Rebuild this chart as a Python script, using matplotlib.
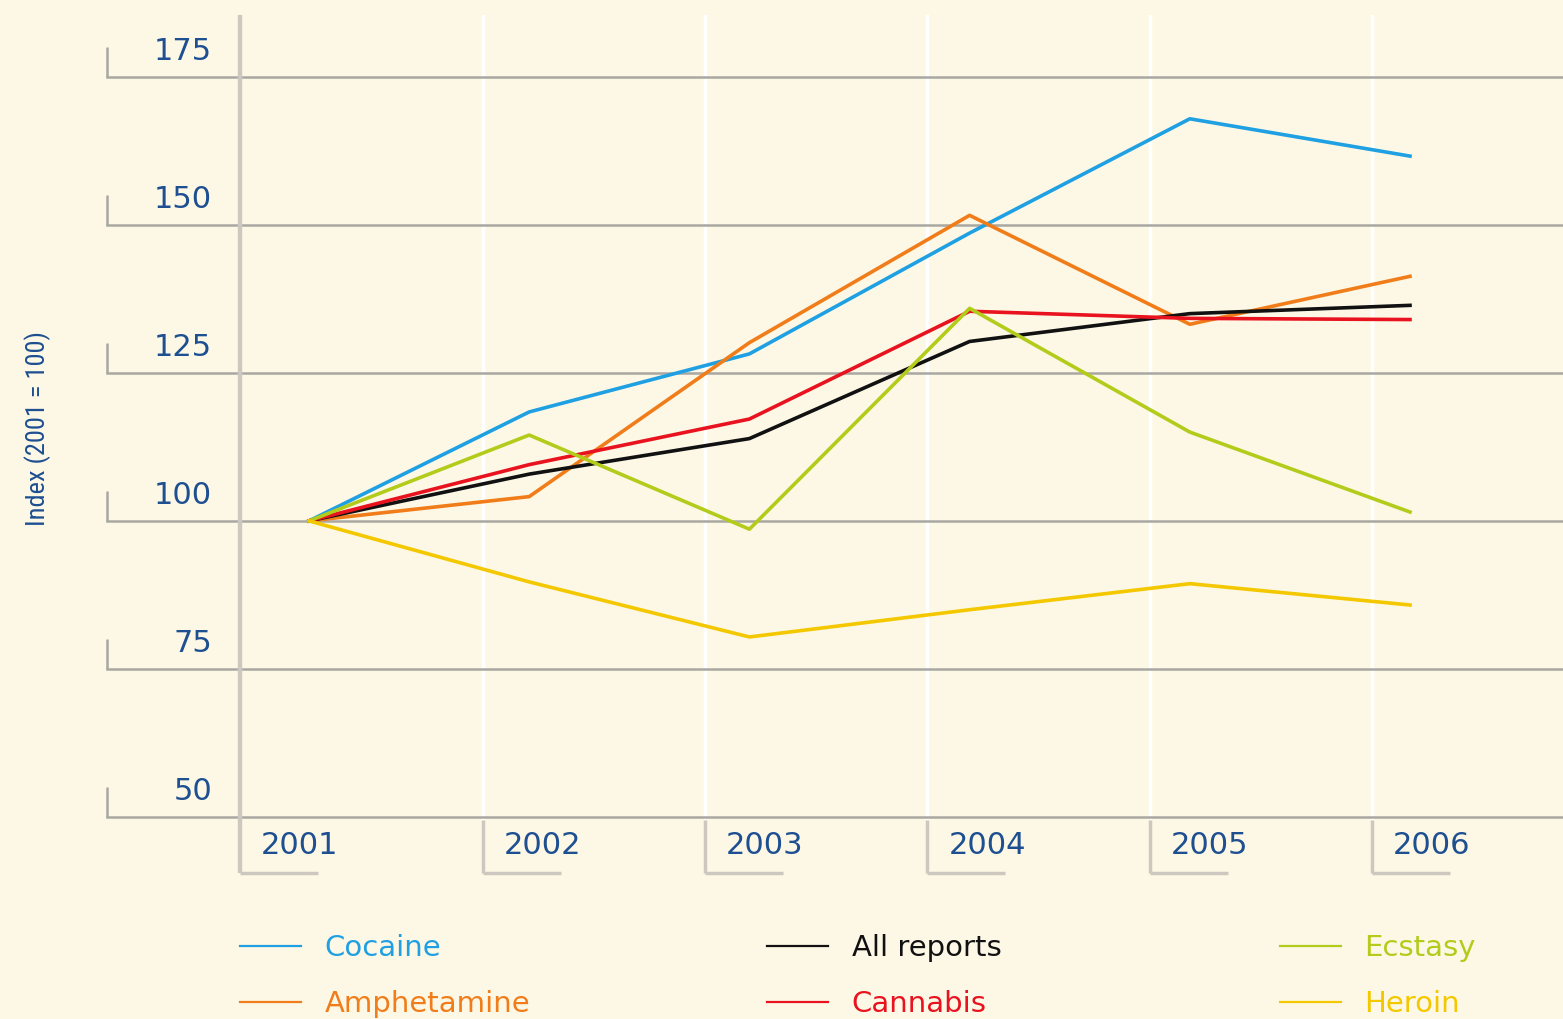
import matplotlib.pyplot as plt
from matplotlib.lines import Line2D
import matplotlib.transforms as mtransforms

years = [2001, 2002, 2003, 2004, 2005, 2006]
cocaine = [100, 118.4, 128.2, 148.6, 167.9, 161.6]
amphetamine = [100, 104.1, 130.1, 151.6, 133.2, 141.3]
all_reports = [100, 107.9, 113.9, 130.3, 135.0, 136.4]
cannabis = [100, 109.5, 117.2, 135.4, 134.2, 134.0]
ecstasy = [100, 114.5, 98.6, 135.9, 115.0, 101.5]
heroin = [100, 89.7, 80.4, 85.0, 89.4, 85.8]
y_ticks = [50, 75, 100, 125, 150, 175]

bg = '#fdf8e6'
blue_txt = '#1d4f91'
grid_col = '#a9a7a2'
box_col = '#ccc8bf'

series = [
    ('Cocaine', cocaine, '#1ea0e2'),
    ('Amphetamine', amphetamine, '#f07d1a'),
    ('All reports', all_reports, '#111111'),
    ('Cannabis', cannabis, '#e8131f'),
    ('Ecstasy', ecstasy, '#b3cc1c'),
    ('Heroin', heroin, '#f4c800'),
]

W, H = 1563, 1019
fig = plt.figure(figsize=(W / 100, H / 100), dpi=100, facecolor=bg)
ax_left, ax_bottom, ax_top = 240, 820, 15
ax = fig.add_axes([ax_left / W, 1 - ax_bottom / H, (W - ax_left) / W, (ax_bottom - ax_top) / H])
ax.set_facecolor(bg)

px_per_year = 220.2
px_per_unit = 5.922
x0 = 2001 - (309 - ax_left) / px_per_year
x1 = 2006 + (W - 1410) / px_per_year
ax.set_xlim(x0, x1)
ax.set_ylim(50 - 3 / px_per_unit, 50 + (817 - ax_top) / px_per_unit)
for s in ax.spines.values():
    s.set_visible(False)
ax.set_xticks([])
ax.set_yticks([])

ax_w = W - ax_left
ax_h = ax_bottom - ax_top
bx = mtransforms.blended_transform_factory(ax.transAxes, ax.transData)
dx = mtransforms.blended_transform_factory(ax.transData, ax.transAxes)

# horizontal grid lines with small brackets and labels
brk_x = (107 - ax_left) / ax_w
for v in y_ticks:
    ax.axhline(v, xmin=brk_x, xmax=1, color=grid_col, lw=1.8, clip_on=False, zorder=1)
    ax.plot([brk_x, brk_x], [v, v + 5], transform=bx, color=grid_col, lw=1.8,
            clip_on=False, solid_capstyle='butt')
    ax.text((212 - ax_left) / ax_w, v + 1.8, str(v), transform=bx, ha='right', va='bottom',
            fontsize=22, color=blue_txt)

# vertical year separators and label boxes (boxes sit a little left of each year)
box_lefts = [x0] + [x0 + (483 + i * 222.2 - ax_left) / px_per_year for i in range(5)]
box_depth = -(873 - ax_bottom) / ax_h
for i, (b, yr) in enumerate(zip(box_lefts, years)):
    if i == 0:
        ax.plot([b, b], [1, box_depth], transform=dx, color=box_col, lw=3.2,
                clip_on=False, zorder=2, solid_capstyle='butt')
    else:
        ax.plot([b, b], [0, 1], transform=dx, color='white', lw=2.5, zorder=0.5)
        ax.plot([b, b], [0, box_depth], transform=dx, color=box_col, lw=2.5,
                clip_on=False, solid_capstyle='butt')
    ax.plot([b, b + 78 / px_per_year], [box_depth, box_depth], transform=dx,
            color=box_col, lw=2.5, clip_on=False, solid_capstyle='butt')
    ax.text(b + 21 / px_per_year, -(846 - ax_bottom) / ax_h, str(yr), transform=dx,
            ha='left', va='center', fontsize=22, color=blue_txt)

# data lines
handles = []
for name, vals, col in series:
    ax.plot(years, vals, color=col, lw=2.6, zorder=3)
    handles.append(Line2D([], [], color=col, lw=1.6, label=name))

fig.text(38 / W, 1 - 428 / H, 'Index (2001 = 100)', rotation=90, ha='center', va='center',
         fontsize=19, color=blue_txt, fontstretch='condensed',
         family=['Liberation Sans Narrow', 'DejaVu Sans Condensed', 'Roboto Condensed'])

# legend in three columns
col_x = [240, 767, 1280]
for k, cx in enumerate(col_x):
    pair = [handles[k * 2], handles[k * 2 + 1]]
    leg = fig.legend(handles=pair, loc='center left', bbox_to_anchor=(cx / W, 1 - 976 / H),
                     frameon=False, fontsize=21, handlelength=2.1, handletextpad=0.8,
                     labelspacing=0.95, borderpad=0, borderaxespad=0)
    for t, h in zip(leg.get_texts(), pair):
        t.set_color(h.get_color())

fig.savefig('out.png', dpi=100, facecolor=bg)
